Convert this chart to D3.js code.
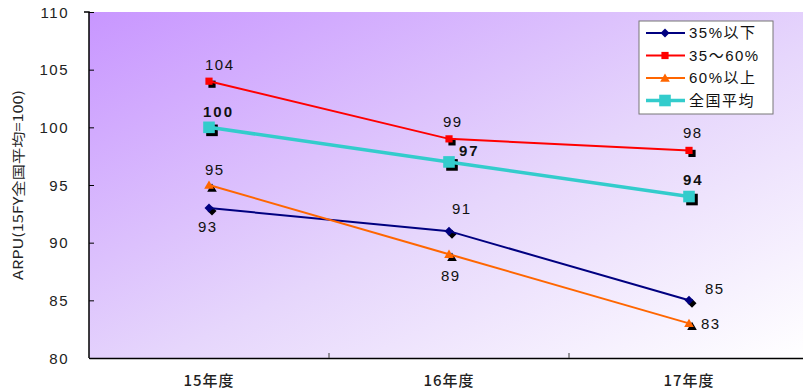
<!DOCTYPE html>
<html>
<head>
<meta charset="utf-8">
<script src="https://cdn.jsdelivr.net/npm/d3@7"></script>
<style>
  html, body { margin: 0; padding: 0; background: #fff; }
  svg { display: block; font-family: "Liberation Sans", Arial, "Noto Sans CJK JP", sans-serif; }
</style>
</head>
<body>
<svg id="chart" width="803" height="391"></svg>
<script>
// Fiscal years on the x axis
const categories = ["15年度", "16年度", "17年度"];

// ARPU index per group (15FY national average = 100)
const seriesNames = ["35%以下", "35～60%", "60%以上", "全国平均"];
const under35 = [93, 91, 85];
const from35to60 = [104, 99, 98];
const over60 = [95, 89, 83];
const nationalAvg = [100, 97, 94];

const yTicks = [80, 85, 90, 95, 100, 105, 110];
const yTitle = "ARPU(15FY全国平均=100)";

const series = [
  { name: seriesNames[0], values: under35, color: "#000080", width: 2, marker: "diamond", r: 4.5, bold: false },
  { name: seriesNames[1], values: from35to60, color: "#ff0000", width: 2, marker: "square", r: 3.6, bold: false },
  { name: seriesNames[2], values: over60, color: "#ff6600", width: 2, marker: "triangle", r: 4.6, bold: false },
  { name: seriesNames[3], values: nationalAvg, color: "#33cccc", width: 3.5, marker: "square", r: 5.8, bold: true }
];

// label offsets (dx, dy) per series per point
const labelPlacement = [
  [[-11, 24], [3, -17], [16, -6]],
  [[-4, -11], [-6, -12], [-6, -12]],
  [[-4, -10], [-8, 27], [12, 6]],
  [[-6, -10], [10, -6], [-6, -12]]
];

const svg = d3.select("#chart");
const margin = { left: 89, top: 12, bottom: 358, right: 809 };

const x = d3.scaleBand().domain(categories).range([margin.left, margin.right]);
const y = d3.scaleLinear().domain([80, 110]).range([margin.bottom, margin.top]);

// marker shapes centred on the origin
function markerPath(type, r) {
  const p = d3.path();
  if (type === "diamond") {
    p.moveTo(0, -r); p.lineTo(r, 0); p.lineTo(0, r); p.lineTo(-r, 0); p.closePath();
  } else if (type === "triangle") {
    p.moveTo(0, -r); p.lineTo(r * 1.05, r * 0.8); p.lineTo(-r * 1.05, r * 0.8); p.closePath();
  } else {
    p.rect(-r, -r, 2 * r, 2 * r);
  }
  return p.toString();
}

// background gradient of the plot area
const defs = svg.append("defs");
const grad = defs.append("linearGradient").attr("id", "bg")
  .attr("x1", "0%").attr("y1", "0%").attr("x2", "100%").attr("y2", "100%");
grad.append("stop").attr("offset", "0%").attr("stop-color", "#c896ff");
grad.append("stop").attr("offset", "55%").attr("stop-color", "#e6d6fc");
grad.append("stop").attr("offset", "100%").attr("stop-color", "#ffffff");

svg.append("rect")
  .attr("x", margin.left).attr("y", margin.top)
  .attr("width", 803 - margin.left).attr("height", margin.bottom - margin.top)
  .attr("fill", "url(#bg)");

// y axis
const yAxis = svg.append("g")
  .attr("transform", `translate(${margin.left},0)`)
  .call(d3.axisLeft(y).tickValues(yTicks).tickSize(5).tickPadding(15).tickFormat(d3.format("d")));
yAxis.select(".domain").attr("stroke", "#000").attr("stroke-width", 1.5).attr("d", `M${-5},${margin.top}H0V${margin.bottom}`);
yAxis.selectAll(".tick line").attr("x2", 5).attr("x1", 0).attr("stroke", "#000");
yAxis.selectAll("text").attr("font-size", 15).attr("fill", "#222").attr("dy", "0.35em")
  .attr("letter-spacing", "1.5")
  .attr("font-family", "'Liberation Sans', Arial, sans-serif");

// x axis
const xAxis = svg.append("g").attr("transform", `translate(0,${margin.bottom})`)
  .call(d3.axisBottom(x).tickSize(0).tickPadding(17));
xAxis.select(".domain").attr("stroke", "#000").attr("stroke-width", 1.5);
xAxis.selectAll("text").attr("font-size", 15).attr("fill", "#222").attr("font-weight", "500")
  .attr("letter-spacing", "1")
  .attr("font-family", "'Noto Sans CJK JP', sans-serif");
// band dividers
svg.append("g").selectAll("line").data(categories.slice(1)).join("line")
  .attr("x1", d => x(d)).attr("x2", d => x(d))
  .attr("y1", margin.bottom - 5).attr("y2", margin.bottom)
  .attr("stroke", "#555").attr("stroke-width", 1.2);

// y axis title
svg.append("text")
  .attr("transform", `translate(23,${(margin.top + margin.bottom) / 2}) rotate(-90)`)
  .attr("text-anchor", "middle")
  .attr("font-size", 13).attr("fill", "#222")
  .attr("font-family", "'Noto Sans CJK JP', sans-serif")
  .attr("textLength", 190).attr("lengthAdjust", "spacingAndGlyphs")
  .text(yTitle);

const cx = c => x(c) + x.bandwidth() / 2;
const line = d3.line().x((d, i) => cx(categories[i])).y(d => y(d));

series.forEach(s => {
  const g = svg.append("g");
  // marker shadows
  g.selectAll("path.shadow").data(s.values).join("path")
    .attr("class", "shadow")
    .attr("d", markerPath(s.marker, s.r))
    .attr("transform", (d, i) => `translate(${cx(categories[i]) + 3},${y(d) + 3})`)
    .attr("fill", "#000");
  g.append("path").datum(s.values)
    .attr("d", line).attr("fill", "none")
    .attr("stroke", s.color).attr("stroke-width", s.width);
  g.selectAll("path.mark").data(s.values).join("path")
    .attr("class", "mark")
    .attr("d", markerPath(s.marker, s.r))
    .attr("transform", (d, i) => `translate(${cx(categories[i])},${y(d)})`)
    .attr("fill", s.color);
});

// value labels
series.forEach((s, si) => {
  svg.append("g").selectAll("text").data(s.values).join("text")
    .attr("x", (d, i) => cx(categories[i]) + labelPlacement[si][i][0])
    .attr("y", (d, i) => y(d) + labelPlacement[si][i][1])
    .attr("font-size", 15)
    .attr("font-weight", s.bold ? "bold" : "normal")
    .attr("letter-spacing", s.bold ? "2" : "1.5")
    .attr("fill", "#111")
    .text(d => d);
});

// legend
const lg = svg.append("g").attr("transform", "translate(639,21)");
lg.append("rect").attr("width", 134).attr("height", 93)
  .attr("fill", "#fff").attr("stroke", "#777").attr("stroke-width", 1);
series.forEach((s, i) => {
  const yy = 12 + i * 22.5;
  lg.append("line").attr("x1", 7).attr("x2", 46).attr("y1", yy).attr("y2", yy)
    .attr("stroke", s.color).attr("stroke-width", s.width);
  lg.append("path")
    .attr("d", markerPath(s.marker, s.r))
    .attr("transform", `translate(26,${yy})`).attr("fill", s.color);
  lg.append("text").attr("x", 50).attr("y", yy).attr("dy", "0.36em")
    .attr("font-size", 15).attr("fill", "#111").attr("letter-spacing", "1.5")
    .attr("font-family", "'Liberation Sans', 'Noto Sans CJK JP', sans-serif")
    .text(s.name);
});
</script>
</body>
</html>
